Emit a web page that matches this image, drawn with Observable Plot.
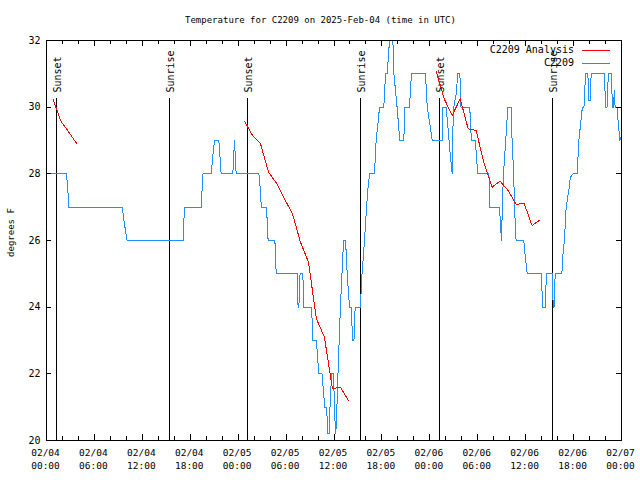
<!DOCTYPE html>
<html><head><meta charset="utf-8">
<script src="https://cdn.jsdelivr.net/npm/d3@7"></script>
<script src="https://cdn.jsdelivr.net/npm/@observablehq/plot@0.6"></script>
<style>body{margin:0;background:#fff} svg{display:block}</style>
</head><body><div id="chart"></div>
<script>
// ---- data ----
const titleText = "Temperature for C2209 on 2025-Feb-04 (time in UTC)";
const yLabel = "degrees F";
const seriesNames = ["C2209 Analysis", "C2209"];
const seriesColors = ["#ff0000", "#1e90ff"];
const startUTC = "2025-02-04T00:00:00Z";
const spanHours = 72;

const xTickHours = [0, 6, 12, 18, 24, 30, 36, 42, 48, 54, 60, 66, 72];
const xTickDays  = ["02/04","02/04","02/04","02/04","02/05","02/05","02/05","02/05","02/06","02/06","02/06","02/06","02/07"];
const xTickTimes = ["00:00","06:00","12:00","18:00","00:00","06:00","12:00","18:00","00:00","06:00","12:00","18:00","00:00"];
const yTicks = [20, 22, 24, 26, 28, 30, 32];

const sunHours  = [1.29, 15.44, 25.2, 39.36, 49.25, 63.4];
const sunLabels = ["Sunset","Sunrise","Sunset","Sunrise","Sunset","Sunrise"];

// Analysis (hours after start, deg F), run = separate segments
const anaHours = [0.8, 1.8, 2.8, 3.8,
  24.8, 25.8, 26.8, 27.8, 28.8, 29.8, 30.8, 31.8, 32.8, 33.8, 34.8, 35.8, 36.8, 37.8,
  48.8, 49.8, 50.8, 51.8, 52.8, 53.8, 54.8, 55.8, 56.8, 57.8, 58.8, 59.8, 60.8, 61.8];
const anaTemps = [30.25, 29.58, 29.25, 28.9,
  29.58, 29.15, 28.9, 28.05, 27.72, 27.25, 26.8, 25.95, 25.35, 23.65, 23.1, 21.55, 21.6, 21.2,
  31.07, 30.25, 29.75, 30.25, 29.35, 29.3, 28.3, 27.6, 27.78, 27.5, 27.08, 27.12, 26.45, 26.62];
const anaRun = [1,1,1,1, 2,2,2,2,2,2,2,2,2,2,2,2,2,2, 3,3,3,3,3,3,3,3,3,3,3,3,3,3];

// Observations (hours after start, deg F)
const obsHours = [0.5,2.5,2.65,2.8, 9.48,9.7,9.95,10.1, 17.1,17.2,17.3, 19.37,19.5,19.6,
  20.62,20.85,21.04, 21.58,21.87, 23.33,23.54,23.75, 26.6,26.75,26.9, 27.55,27.75,
  28.6,28.76, 31.4,31.5,31.6,31.75,32.1,32.2, 33.2,33.35, 33.8,34.1, 34.5,34.85,
  35.06,35.25,35.4,35.5,35.7, 35.95,36.05,36.2,36.3, 36.5,36.8,37.1,37.2,
  37.45,37.65,37.94, 38.2,38.3,38.5,38.65,
  39.32,39.45,39.7,39.9,40.07,40.3,40.49, 41.07,41.28,41.5,41.7,
  42.24,42.45,42.66,42.95,43.37,43.5,43.9,44.24, 44.74,44.87,45.45,45.7,
  47.46,47.67,48.0,48.3, 49.55,49.6,50.05,50.3,50.55,50.8,50.88,51.0,51.3,51.5,51.76,51.9,
  53.0,53.2,53.7,53.85,54.0, 55.4,55.45,55.5, 56.72,56.85,56.97,57.05,57.2,57.5,57.77,
  58.18,58.3,58.5,58.6,58.8, 59.77,59.95,60.2, 61.94,62.15,62.45,62.6,
  63.32,63.45,63.55,63.7, 64.53,64.7,64.85,65.07,65.4,65.6,65.95,
  66.45,66.66,67.1,67.3,67.5,67.8,67.85,68.1,68.2,
  69.87,70.0,70.2,70.35,70.75,70.85,71.0,71.1,71.2,71.45,71.6,71.8,71.95];
const obsTemps = [28,28,27.6,27, 27,26.6,26.2,26, 26,26.6,27, 27,27.6,28,
  28,28.6,29, 29,28, 28,29,28, 28,27.6,27, 27,26,
  26,25, 25,24,24,25,25,24, 24,23, 23,22, 22,21,
  21,20.2,20.2,21,22, 22,21,20.2,20.5, 22,24,25.5,26,
  26,25,24, 24,23,23,24,
  24,24.8,25.6,26.3,27,27.7,28, 28,29,29.5,30,
  30,31,31,32,32,31,30,29, 29,30,30,31,
  31,30,29.5,29, 29,30,30,29.3,28.6,28,29.3,30,30.4,31,31,30,
  30,29,29,28.5,28, 28,27.5,27, 27,26.5,26,26.7,27.9,29,30,
  30,29,28,27,26, 26,25.5,25, 25,24,24,25,
  25,24,24,25, 25,25.7,26,27,27.5,27.9,28,
  28,29,30,30,31,31,30.2,30.2,31,
  31,30,30,31,31,30,30,30.5,30,30,29.5,29,29.1];

// ---- build ----
const t0 = Date.parse(startUTC);
const toDate = h => new Date(t0 + h * 3600e3);
const ana = anaHours.map((h, i) => ({t: toDate(h), v: anaTemps[i], run: anaRun[i]}));
const obs = obsHours.map((h, i) => ({t: toDate(h), v: obsTemps[i]}));
const sun = sunHours.map((h, i) => ({t: toDate(h), label: sunLabels[i]}));
const xTicks = xTickHours.map((h, i) => ({t: toDate(h), day: xTickDays[i], time: xTickTimes[i]}));
const minorHours = d3.range(0, spanHours + 1, 2);
const sunTop = 30.26;
const FONT = "'DejaVu Sans Mono', monospace";

function inwardTicks(index, scales, values, dims) {
  const g = d3.create("svg:g").attr("stroke", "black").attr("shape-rendering", "crispEdges");
  const top = dims.marginTop, bottom = dims.height - dims.marginBottom;
  const left = dims.marginLeft, right = dims.width - dims.marginRight;
  for (const h of minorHours) {
    const px = Math.round(scales.x(toDate(h))) + 0.5;
    const len = h % 6 === 0 ? 6 : 4;
    g.append("line").attr("x1", px).attr("x2", px).attr("y1", bottom).attr("y2", bottom - len);
    g.append("line").attr("x1", px).attr("x2", px).attr("y1", top).attr("y2", top + len);
  }
  for (const v of yTicks) {
    const py = Math.round(scales.y(v)) + 0.5;
    g.append("line").attr("x1", left).attr("x2", left + 5).attr("y1", py).attr("y2", py);
    g.append("line").attr("x1", right).attr("x2", right - 5).attr("y1", py).attr("y2", py);
  }
  return g.node();
}

function legend(index, scales, values, dims) {
  const right = dims.width - dims.marginRight;
  const g = d3.create("svg:g").attr("font-family", FONT).attr("font-size", 10);
  seriesNames.forEach((name, i) => {
    const y = dims.marginTop + 10 + i * 12.5;
    g.append("text").attr("x", right - 47).attr("y", y).attr("text-anchor", "end")
      .attr("dy", "0.32em").attr("fill", "black").text(name);
    g.append("line").attr("x1", right - 39).attr("x2", right - 11)
      .attr("y1", Math.round(y) + 0.5).attr("y2", Math.round(y) + 0.5)
      .attr("stroke", seriesColors[i]).attr("shape-rendering", "crispEdges");
  });
  return g.node();
}

const chart = Plot.plot({
  width: 640, height: 480,
  marginLeft: 46, marginRight: 19, marginTop: 40, marginBottom: 40,
  style: {fontFamily: FONT, fontSize: "10px", background: "white", color: "black"},
  x: {type: "utc", domain: [toDate(0), toDate(spanHours)], axis: null},
  y: {domain: [20, 32], axis: null},
  marks: [
    Plot.ruleX(sun, {x: "t", y1: 20, y2: sunTop, stroke: "black", shapeRendering: "crispEdges"}),
    Plot.text(sun, {x: "t", y: sunTop, text: "label", rotate: -90, textAnchor: "start",
      lineAnchor: "middle", dy: -6, dx: 1, fontSize: 10, fill: "black"}),
    Plot.line(obs, {x: "t", y: "v", stroke: seriesColors[1], strokeWidth: 1, shapeRendering: "crispEdges"}),
    Plot.line(ana, {x: "t", y: "v", z: "run", stroke: seriesColors[0], strokeWidth: 1, shapeRendering: "crispEdges"}),
    Plot.frame({stroke: "black", shapeRendering: "crispEdges"}),
    inwardTicks,
    Plot.text(xTicks, {x: "t", text: "day", frameAnchor: "bottom", lineAnchor: "top", dy: 9, dx: -1, fontSize: 9.5, fill: "black"}),
    Plot.text(xTicks, {x: "t", text: "time", frameAnchor: "bottom", lineAnchor: "top", dy: 22, dx: -1, fontSize: 9.5, fill: "black"}),
    Plot.text(yTicks, {y: d => d, text: d => String(d), frameAnchor: "left", textAnchor: "end", dx: -6, fontSize: 10, fill: "black"}),
    Plot.text([yLabel], {frameAnchor: "left", dx: -35, dy: -8, rotate: -90, textAnchor: "middle", lineAnchor: "middle", fontSize: 9, fill: "black"}),
    Plot.text([titleText], {frameAnchor: "top", dx: -13.5, dy: -20, lineAnchor: "middle", textAnchor: "middle", fontSize: 9, fill: "black"}),
    legend
  ]
});
document.getElementById("chart").appendChild(chart);
</script>
</body></html>
